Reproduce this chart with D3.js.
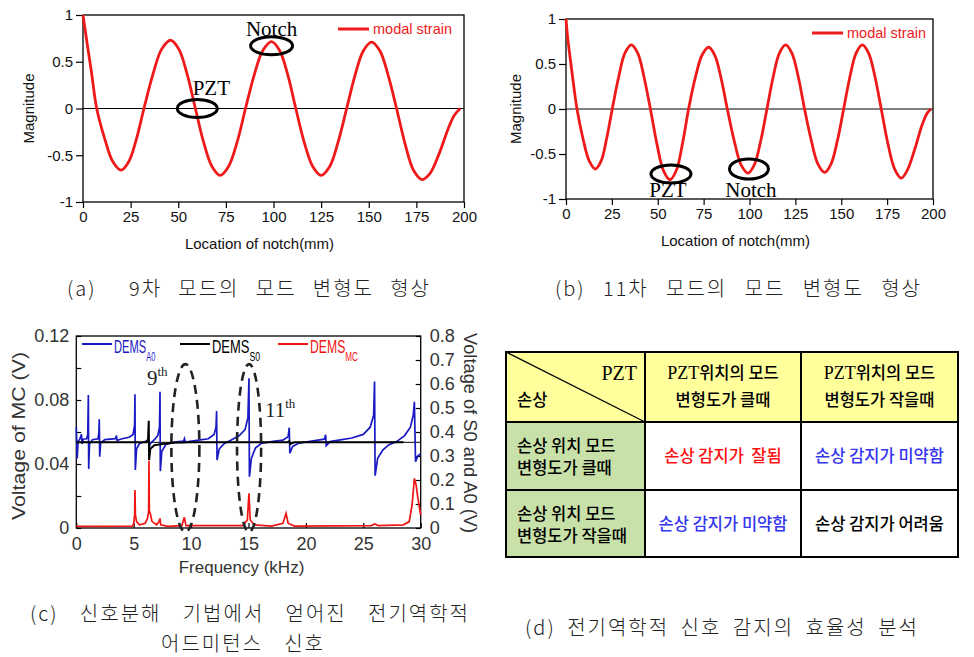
<!DOCTYPE html>
<html>
<head>
<meta charset="utf-8">
<script src="https://cdn.jsdelivr.net/npm/d3@7"></script>
<style>
body { margin: 0; background: #fff; }
svg { display: block; }
</style>
</head>
<body>
<svg id="fig" width="974" height="657"></svg>
<script>
// ---- data ----
// (a) 9th mode modal strain [location mm, magnitude]
const modeNine = [[0,1],[2,0.72],[4.5,0.38],[7.2,0],[11.5,-0.33],[15.7,-0.57],[20,-0.66],[24,-0.57],[28,-0.33],[32,0],
  [36.7,0.365],[41.3,0.635],[46,0.73],[50.3,0.635],[54.7,0.365],[59,0],[63.3,-0.36],[67.7,-0.62],[72,-0.715],
  [76.4,-0.62],[80.9,-0.36],[85.3,0],[89.9,0.36],[94.4,0.62],[99,0.715],[103.2,0.62],[107.5,0.36],[111.7,0],
  [116.1,-0.36],[120.6,-0.62],[125,-0.715],[129.5,-0.62],[133.9,-0.36],[138.4,0],[142.8,0.355],[147.1,0.615],
  [151.5,0.71],[155.9,0.615],[160.2,0.355],[164.6,0],[169.1,-0.38],[173.5,-0.66],[178,-0.76],[182,-0.7],
  [187,-0.48],[192,-0.2],[195,-0.07],[198,0]];
// (b) 11th mode modal strain
const modeEleven = [[0,1],[1,0.78],[3,0.45],[6,0],[9.3,-0.333],[12.7,-0.58],[16,-0.667],[19.1,-0.58],[22.1,-0.333],
  [25.2,0],[28.7,0.356],[32.1,0.62],[35.6,0.712],[39.1,0.62],[42.5,0.356],[46,0],[49.6,-0.393],[53.1,-0.684],
  [56.7,-0.786],[60.1,-0.684],[63.4,-0.393],[66.8,0],[70.4,0.343],[74.1,0.597],[77.7,0.686],[81.1,0.597],
  [84.5,0.343],[87.9,0],[91.7,-0.356],[95.4,-0.62],[99.2,-0.712],[102.6,-0.62],[106.1,-0.356],[109.5,0],
  [112.9,0.356],[116.3,0.62],[119.7,0.712],[123.1,0.62],[126.6,0.356],[130,0],[133.7,-0.352],[137.3,-0.612],
  [141,-0.704],[144.4,-0.612],[147.9,-0.352],[151.3,0],[154.7,0.356],[158.1,0.62],[161.5,0.712],[164.9,0.62],
  [168.4,0.356],[171.8,0],[175.4,-0.383],[179.1,-0.667],[182.7,-0.767],[186,-0.68],[190,-0.45],[194,-0.18],
  [197,-0.04],[199,0]];
const xTicksMode = [0,25,50,75,100,125,150,175,200];
const yTicksMode = [-1,-0.5,0,0.5,1];

// (c) DEMS signals [kHz, V]
const demsA0 = [[0,0.42],[0.08,0.29],[0.15,0.36],[0.3,0.37],[0.45,0.39],[0.5,0.35],[0.6,0.37],[0.9,0.372],[1.0,0.39],
  [1.05,0.554],[1.08,0.246],[1.15,0.35],[1.4,0.368],[1.9,0.372],[1.97,0.40],[2.0,0.453],[2.04,0.297],[2.12,0.355],
  [2.5,0.368],[3.4,0.372],[3.5,0.385],[3.55,0.365],[4.0,0.372],[4.6,0.378],[4.95,0.39],[5.08,0.43],[5.11,0.557],
  [5.14,0.242],[5.25,0.33],[5.5,0.352],[6.0,0.36],[6.3,0.365],[6.35,0.335],[6.45,0.352],[6.8,0.368],[7.1,0.385],
  [7.25,0.42],[7.29,0.568],[7.32,0.237],[7.45,0.32],[7.8,0.348],[8.5,0.358],[9.35,0.362],[9.42,0.372],[9.5,0.358],
  [10.5,0.365],[11.5,0.372],[12.0,0.39],[12.17,0.42],[12.22,0.487],[12.26,0.283],[12.45,0.33],[12.9,0.352],
  [13.5,0.367],[14.2,0.385],[14.7,0.41],[14.95,0.46],[15.04,0.624],[15.08,0.214],[15.25,0.29],[15.6,0.333],
  [16.1,0.352],[17,0.36],[18.0,0.366],[18.45,0.38],[18.55,0.418],[18.6,0.312],[18.85,0.34],[19.4,0.354],
  [20.5,0.362],[21.6,0.37],[21.72,0.388],[21.77,0.343],[22.1,0.36],[23,0.367],[24,0.375],[25,0.39],[25.6,0.42],
  [25.9,0.47],[25.98,0.61],[26.03,0.218],[26.25,0.29],[26.7,0.325],[27.2,0.346],[27.9,0.36],[28.6,0.385],
  [29.1,0.42],[29.35,0.47],[29.45,0.526],[29.55,0.276],[29.75,0.3],[30,0.31]];
const demsS0 = [[0,0.357],[6.1,0.357],[6.25,0.37],[6.31,0.447],[6.34,0.283],[6.45,0.33],[6.8,0.345],[7.5,0.35],
  [8.5,0.355],[10,0.357],[18.4,0.357],[18.55,0.362],[18.62,0.35],[19,0.357],[28.5,0.357]];
const demsS0Level = 0.357;
const demsMC = [[0,0.001],[4.9,0.0012],[5.0,0.003],[5.08,0.008],[5.11,0.0237],[5.15,0.008],[5.25,0.004],[5.5,0.002],
  [6.0,0.003],[6.2,0.006],[6.3,0.010],[6.33,0.042],[6.36,0.011],[6.45,0.009],[6.6,0.004],[7.0,0.002],[7.2,0.004],
  [7.29,0.006],[7.35,0.002],[8,0.001],[9.2,0.0015],[9.41,0.0068],[9.55,0.0015],[12.2,0.0015],[14.5,0.0015],
  [14.9,0.005],[15.04,0.0217],[15.15,0.005],[15.5,0.002],[17,0.0012],[18.0,0.003],[18.27,0.0092],[18.45,0.003],
  [19,0.0012],[25.7,0.0015],[26.0,0.0025],[26.3,0.0015],[28.5,0.002],[29.0,0.004],[29.25,0.0144],[29.45,0.031],
  [29.6,0.027],[29.75,0.019],[30,0.008]];
const freqTicks = [0,5,10,15,20,25,30];
const mcTicks = [0,0.04,0.08,0.12];
const mcMinorTicks = [0.02,0.06,0.10];
const saTicks = [0,0.1,0.2,0.3,0.4,0.5,0.6,0.7,0.8];
const modeRings = [{ f: 9.5, v: 0.333, rf: 1.22 }, { f: 15.05, v: 0.333, rf: 1.05 }];

// (d) table
const colHeads = [["위치의 모드", "변형도가 클때"], ["위치의 모드", "변형도가 작을때"]];
const rowHeads = [["손상 위치 모드", "변형도가 클때"], ["손상 위치 모드", "변형도가 작을때"]];
const cells = [["손상 감지가  잘됨", "손상 감지가 미약함"], ["손상 감지가 미약함", "손상 감지가 어려움"]];
const cellColors = [["#ff1010", "#3535f0"], ["#3535f0", "#000000"]];

const captions = [
  { text: "(a)  9차 모드의 모드 변형도 형상", x: 67, y: 296, w: 364 },
  { text: "(b) 11차 모드의 모드 변형도 형상", x: 555, y: 296, w: 367 },
  { text: "(c) 신호분해 기법에서 얻어진 전기역학적", x: 30, y: 621, w: 440 },
  { text: "어드미턴스 신호", x: 161, y: 651, w: 164 },
  { text: "(d) 전기역학적 신호 감지의 효율성 분석", x: 525, y: 635, w: 394 }
];

const SANS = "'Liberation Sans', Arial, sans-serif";
const SERIF = "'Liberation Serif', 'Times New Roman', serif";
const KR = "'Noto Sans CJK KR', sans-serif";
const RED = "#ee1a1a";

const svg = d3.select("#fig");

function styleAxis(g, size, color) {
  g.selectAll("text").style("font-family", SANS).style("font-size", size).attr("fill", color);
  g.selectAll("line").attr("stroke", "#000").attr("stroke-width", 1.2);
  g.select(".domain").remove();
}

// ---- mode shape panels (a) and (b) ----
function modePanel(opt) {
  const x = d3.scaleLinear().domain([0, 200]).range([opt.left, opt.right]);
  const y = d3.scaleLinear().domain([-1, 1]).range([opt.bottom, opt.top]);
  const g = svg.append("g");

  g.append("g").attr("transform", `translate(0,${opt.bottom})`)
    .call(d3.axisBottom(x).tickValues(xTicksMode).tickSize(6).tickPadding(3).tickFormat(d => String(d)))
    .call(a => styleAxis(a, "15px", "#111"));
  g.append("g").attr("transform", `translate(${opt.left},0)`)
    .call(d3.axisLeft(y).tickValues(yTicksMode).tickSize(7).tickPadding(3).tickFormat(d => String(d)))
    .call(a => styleAxis(a, "15px", "#111"));

  g.append("rect").attr("x", x(0)).attr("y", y(1)).attr("width", x(200) - x(0)).attr("height", y(-1) - y(1))
    .attr("fill", "none").attr("stroke", "#000").attr("stroke-width", 1.3);
  g.append("line").attr("x1", x(0)).attr("x2", x(200)).attr("y1", y(0)).attr("y2", y(0))
    .attr("stroke", "#000").attr("stroke-width", 1);

  g.append("path").datum(opt.data)
    .attr("d", d3.line().x(d => x(d[0])).y(d => y(d[1])).curve(d3.curveCatmullRom.alpha(0.5)))
    .attr("fill", "none").attr("stroke", RED).attr("stroke-width", 2.8);

  // legend
  g.append("line").attr("x1", opt.legX).attr("x2", opt.legX + 31).attr("y1", opt.legY).attr("y2", opt.legY)
    .attr("stroke", RED).attr("stroke-width", 3);
  g.append("text").attr("x", opt.legX + 35).attr("y", opt.legY + 5).text("modal strain")
    .style("font-family", SANS).style("font-size", "14.5px").attr("fill", RED);

  // axis titles
  g.append("text").attr("x", (opt.left + opt.right) / 2 - 14).attr("y", opt.xTitleY).attr("text-anchor", "middle")
    .text("Location of notch(mm)").style("font-family", SANS).style("font-size", "15px").attr("fill", "#111");
  g.append("text").attr("transform", `translate(${opt.yTitleX},${(opt.top + opt.bottom) / 2}) rotate(-90)`)
    .attr("text-anchor", "middle").text("Magnitude")
    .style("font-family", SANS).style("font-size", "15px").attr("fill", "#111");

  // ring annotations
  opt.marks.forEach(m => {
    g.append("ellipse").attr("cx", x(m.at[0])).attr("cy", y(m.at[1])).attr("rx", m.rx).attr("ry", m.ry)
      .attr("fill", "none").attr("stroke", "#000").attr("stroke-width", 3);
    g.append("text").attr("x", x(m.at[0]) + m.dx).attr("y", y(m.at[1]) + m.dy).attr("text-anchor", "middle")
      .text(m.label).style("font-family", SERIF).style("font-size", "21px").attr("fill", "#000");
  });
}

modePanel({
  data: modeNine, left: 83, right: 464, top: 15, bottom: 202,
  legX: 338, legY: 29, xTitleY: 249, yTitleX: 34,
  marks: [
    { label: "Notch", at: [99, 0.67], rx: 21, ry: 9, dx: 0, dy: -10 },
    { label: "PZT", at: [60, 0], rx: 20, ry: 9, dx: 14, dy: -14 }
  ]
});
modePanel({
  data: modeEleven, left: 566, right: 933, top: 19, bottom: 199,
  legX: 812, legY: 33, xTitleY: 246, yTitleX: 521,
  marks: [
    { label: "PZT", at: [57.2, -0.722], rx: 20, ry: 9, dx: -3, dy: 23 },
    { label: "Notch", at: [99.7, -0.667], rx: 19.5, ry: 10, dx: 2, dy: 28 }
  ]
});

// ---- (c) electromechanical admittance signals ----
(function () {
  const left = 76.3, right = 420.7, top = 336, bottom = 528;
  const x = d3.scaleLinear().domain([0, 30]).range([left, right]);
  const yMC = d3.scaleLinear().domain([0, 0.12]).range([bottom, top]);
  const ySA = d3.scaleLinear().domain([0, 0.8]).range([bottom, top]);
  const g = svg.append("g");

  g.append("g").attr("transform", `translate(0,${bottom})`)
    .call(d3.axisBottom(x).tickValues(freqTicks).tickSize(-5).tickPadding(9).tickFormat(d => String(d)))
    .call(a => styleAxis(a, "18px", "#333"));
  g.append("g").attr("transform", `translate(${left},0)`)
    .call(d3.axisLeft(yMC).tickValues(mcTicks).tickSize(-5).tickPadding(7).tickFormat(d => String(d)))
    .call(a => styleAxis(a, "18px", "#333"));
  g.append("g").attr("transform", `translate(${left},0)`)
    .call(d3.axisLeft(yMC).tickValues(mcMinorTicks).tickSize(-5).tickFormat(""))
    .call(a => styleAxis(a, "18px", "#333"));
  g.append("g").attr("transform", `translate(${right},0)`)
    .call(d3.axisRight(ySA).tickValues(saTicks).tickSize(-5).tickPadding(9).tickFormat(d => String(d)))
    .call(a => styleAxis(a, "18px", "#333"));

  g.append("rect").attr("x", left).attr("y", top).attr("width", right - left).attr("height", bottom - top)
    .attr("fill", "none").attr("stroke", "#000").attr("stroke-width", 1.3);

  const lineSA = d3.line().x(d => x(d[0])).y(d => ySA(d[1]));
  const lineMC = d3.line().x(d => x(d[0])).y(d => yMC(d[1]));

  g.append("line").attr("x1", x(0)).attr("x2", x(30)).attr("y1", ySA(demsS0Level)).attr("y2", ySA(demsS0Level))
    .attr("stroke", "#000").attr("stroke-width", 1);
  g.append("path").datum(demsA0).attr("d", lineSA).attr("fill", "none").attr("stroke", "#1a1ac4").attr("stroke-width", 1.7);
  g.append("path").datum(demsS0).attr("d", lineSA).attr("fill", "none").attr("stroke", "#000").attr("stroke-width", 2);
  g.append("path").datum(demsMC).attr("d", lineMC).attr("fill", "none").attr("stroke", "#f01515").attr("stroke-width", 1.7);

  // dashed mode rings
  modeRings.forEach(r => {
    g.append("ellipse").attr("cx", x(r.f)).attr("cy", ySA(r.v))
      .attr("rx", x(r.rf) - x(0)).attr("ry", 84)
      .attr("fill", "none").attr("stroke", "#222").attr("stroke-width", 2.6).attr("stroke-dasharray", "9,6");
  });
  const ord = [{ n: "9", x: 147, y: 385 }, { n: "11", x: 265, y: 417 }];
  ord.forEach(o => {
    const t = g.append("text").attr("x", o.x).attr("y", o.y).style("font-family", SERIF)
      .style("font-size", "21px").attr("fill", "#222");
    t.append("tspan").text(o.n);
    t.append("tspan").attr("dy", -9).style("font-size", "13px").text("th");
  });

  // legend (text squeezed horizontally like the source figure)
  const leg = [
    { sub: "A0", color: "#1a1ac4", x: 82, k: 0.62 },
    { sub: "S0", color: "#000", x: 180, k: 0.72 },
    { sub: "MC", color: "#f01515", x: 278, k: 0.68 }
  ];
  leg.forEach(l => {
    g.append("line").attr("x1", l.x).attr("x2", l.x + 30).attr("y1", 344).attr("y2", 344)
      .attr("stroke", l.color).attr("stroke-width", 2);
    const t = g.append("text").attr("transform", `translate(${l.x + 32},353) scale(${l.k},1)`)
      .style("font-family", SANS).style("font-size", "18px").attr("fill", l.color);
    t.append("tspan").text("DEMS");
    t.append("tspan").attr("dy", 8).style("font-size", "12px").text(l.sub);
  });

  g.append("text").attr("x", (left + right) / 2 - 7).attr("y", 573).attr("text-anchor", "middle")
    .text("Frequency (kHz)").style("font-family", SANS).style("font-size", "17px").attr("fill", "#333");
  g.append("text").attr("transform", `translate(25,${(top + bottom) / 2 + 4}) rotate(-90)`).attr("text-anchor", "middle")
    .text("Voltage of MC (V)").attr("textLength", 168).attr("lengthAdjust", "spacingAndGlyphs")
    .style("font-family", SANS).style("font-size", "18px").attr("fill", "#333");
  g.append("text").attr("transform", `translate(464,${(top + bottom) / 2 + 1}) rotate(90)`).attr("text-anchor", "middle")
    .text("Voltage of S0 and A0 (V)").attr("textLength", 200).attr("lengthAdjust", "spacingAndGlyphs")
    .style("font-family", SANS).style("font-size", "18px").attr("fill", "#333");
})();

// ---- (d) table ----
(function () {
  const xs = [506, 645, 801, 958];
  const ys = [352, 422, 490, 557];
  const g = svg.append("g");
  const txt = (x, y, s, anchor, color) => g.append("text").attr("x", x).attr("y", y).attr("text-anchor", anchor)
    .text(s).style("font-family", KR).style("font-size", "16.5px").style("font-weight", 500)
    .style("white-space", "pre").attr("fill", color);

  g.append("rect").attr("x", xs[0]).attr("y", ys[0]).attr("width", xs[3] - xs[0]).attr("height", ys[1] - ys[0]).attr("fill", "#ffff9c");
  g.append("rect").attr("x", xs[0]).attr("y", ys[1]).attr("width", xs[1] - xs[0]).attr("height", ys[3] - ys[1]).attr("fill", "#c8e1a8");

  g.append("line").attr("x1", xs[0]).attr("y1", ys[0]).attr("x2", xs[1]).attr("y2", ys[1]).attr("stroke", "#000").attr("stroke-width", 1.3);
  g.selectAll(".vl").data(xs).enter().append("line").attr("x1", d => d).attr("x2", d => d)
    .attr("y1", ys[0]).attr("y2", ys[3]).attr("stroke", "#000").attr("stroke-width", 2);
  g.selectAll(".hl").data(ys).enter().append("line").attr("y1", d => d).attr("y2", d => d)
    .attr("x1", xs[0] - 1).attr("x2", xs[3] + 1).attr("stroke", "#000").attr("stroke-width", 2);

  g.append("text").attr("x", 637).attr("y", 380).attr("text-anchor", "end").text("PZT")
    .style("font-family", SERIF).style("font-size", "20px").attr("fill", "#000");
  txt(517, 406, "손상", "start", "#000");

  colHeads.forEach((h, i) => {
    const cx = (xs[i + 1] + xs[i + 2]) / 2;
    const t = g.append("text").attr("x", cx).attr("y", 379).attr("text-anchor", "middle")
      .style("font-family", KR).style("font-size", "16.5px").style("font-weight", 500).attr("fill", "#000");
    t.append("tspan").text("PZT").style("font-family", SERIF).style("font-size", "18px");
    t.append("tspan").text(h[0]);
    txt(cx, 406, h[1], "middle", "#000");
  });
  rowHeads.forEach((h, r) => {
    const cy = (ys[r + 1] + ys[r + 2]) / 2;
    txt(517, cy - 4, h[0], "start", "#000");
    txt(517, cy + 18, h[1], "start", "#000");
    cells[r].forEach((c, i) => {
      txt((xs[i + 1] + xs[i + 2]) / 2, cy + 6, c, "middle", cellColors[r][i]);
    });
  });
})();

// ---- captions: letter and word gaps fitted so each line spans the source width ----
svg.selectAll(".cap").data(captions).enter().append("text")
  .attr("x", d => d.x).attr("y", d => d.y).text(d => d.text)
  .style("font-family", KR).style("font-size", "20px").style("font-weight", 300)
  .style("letter-spacing", "2px")
  .style("white-space", "pre").attr("fill", "#222")
  .each(function (d) {
    const gaps = (d.text.match(/ /g) || []).length;
    const extra = (d.w - this.getComputedTextLength()) / Math.max(gaps, 1);
    d3.select(this).style("word-spacing", Math.max(extra, 0) + "px");
  });
</script>
</body>
</html>
